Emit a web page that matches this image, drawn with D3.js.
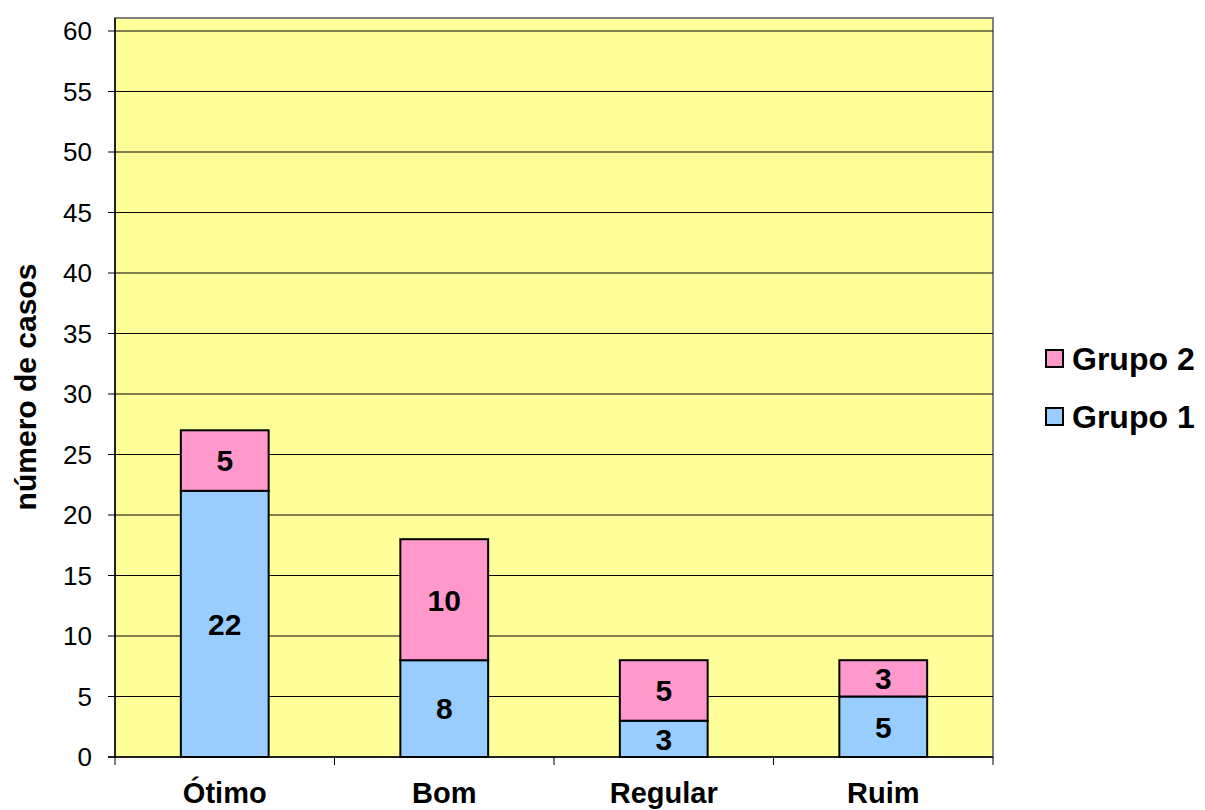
<!DOCTYPE html>
<html>
<head>
<meta charset="utf-8">
<script src="https://cdn.jsdelivr.net/npm/d3@7"></script>
<style>
body { margin: 0; background: #fff; }
text { font-family: "Liberation Sans", Arial, sans-serif; }
</style>
</head>
<body>
<svg id="chart" width="1205" height="810"></svg>
<script>
var categories = ["Ótimo", "Bom", "Regular", "Ruim"];
var grupo1 = [22, 8, 3, 5];
var grupo2 = [5, 10, 5, 3];
var seriesNames = ["Grupo 1", "Grupo 2"];
var seriesColors = ["#99ccff", "#ff99cc"];
var yTicks = d3.range(0, 61, 5);

var svg = d3.select("#chart");
var margin = { left: 115, top: 18, right: 993, bottom: 757 };

var x = d3.scaleBand().domain(categories)
	.range([margin.left, margin.right]).paddingInner(0).paddingOuter(0);
var y = d3.scaleLinear().domain([0, 60]).range([margin.bottom, 31]);

// plot background
svg.append("rect")
	.attr("x", margin.left).attr("y", margin.top)
	.attr("width", margin.right - margin.left)
	.attr("height", margin.bottom - margin.top)
	.attr("fill", "#ffff99")
	.attr("stroke", "#808080").attr("stroke-width", 2);

// gridlines
svg.append("g").selectAll("line").data(yTicks.filter(function(d){ return d > 0; }))
	.enter().append("line")
		.attr("x1", margin.left).attr("x2", margin.right)
		.attr("y1", function(d){ return y(d); })
		.attr("y2", function(d){ return y(d); })
		.attr("stroke", "#000").attr("stroke-width", 1);

// stacked data
var table = categories.map(function(c, i){
	return { cat: c, g1: grupo1[i], g2: grupo2[i] };
});
var stack = d3.stack().keys(["g1", "g2"])(table);

var bw = x.bandwidth() * 0.4;
var layers = svg.append("g").selectAll("g").data(stack)
	.enter().append("g")
		.attr("fill", function(d, i){ return seriesColors[i]; });

layers.selectAll("rect").data(function(d){ return d; })
	.enter().append("rect")
		.attr("x", function(d){ return x(d.data.cat) + (x.bandwidth() - bw) / 2; })
		.attr("y", function(d){ return y(d[1]); })
		.attr("width", bw)
		.attr("height", function(d){ return y(d[0]) - y(d[1]); })
		.attr("stroke", "#000").attr("stroke-width", 2);

layers.selectAll("text").data(function(d){ return d; })
	.enter().append("text")
		.attr("x", function(d){ return x(d.data.cat) + x.bandwidth() / 2; })
		.attr("y", function(d){ return (y(d[0]) + y(d[1])) / 2; })
		.attr("dy", "0.36em")
		.attr("text-anchor", "middle")
		.attr("fill", "#000")
		.style("font-size", "30px").style("font-weight", "bold")
		.text(function(d){ return d[1] - d[0]; });

// y axis
var yAxis = svg.append("g");
yAxis.append("line")
	.attr("x1", margin.left).attr("x2", margin.left)
	.attr("y1", margin.top).attr("y2", margin.bottom)
	.attr("stroke", "#000").attr("stroke-width", 1.5);
yAxis.selectAll(".tick").data(yTicks).enter().append("line")
	.attr("x1", margin.left - 7).attr("x2", margin.left)
	.attr("y1", function(d){ return y(d); }).attr("y2", function(d){ return y(d); })
	.attr("stroke", "#000");
yAxis.selectAll("text").data(yTicks).enter().append("text")
	.attr("x", margin.left - 23)
	.attr("y", function(d){ return y(d); })
	.attr("dy", "0.36em")
	.attr("text-anchor", "end")
	.style("font-size", "26px")
	.text(function(d){ return d; });

// x axis
var xAxis = svg.append("g");
xAxis.append("line")
	.attr("x1", margin.left - 7).attr("x2", margin.right)
	.attr("y1", margin.bottom).attr("y2", margin.bottom)
	.attr("stroke", "#000").attr("stroke-width", 1.5);
var bounds = categories.map(function(c){ return x(c); }).concat([margin.right]);
xAxis.selectAll(".tick").data(bounds).enter().append("line")
	.attr("x1", function(d){ return d; }).attr("x2", function(d){ return d; })
	.attr("y1", margin.bottom).attr("y2", margin.bottom + 8)
	.attr("stroke", "#000");
xAxis.selectAll("text").data(categories).enter().append("text")
	.attr("x", function(d){ return x(d) + x.bandwidth() / 2; })
	.attr("y", 803)
	.attr("text-anchor", "middle")
	.style("font-size", "29px").style("font-weight", "bold")
	.text(function(d){ return d; });

// y label
svg.append("text")
	.attr("transform", "translate(36,387) rotate(-90)")
	.attr("text-anchor", "middle")
	.style("font-size", "30px").style("font-weight", "bold")
	.text("número de casos");

// legend (Grupo 2 on top)
var legendItems = [1, 0];
var lg = svg.append("g").selectAll("g").data(legendItems).enter().append("g")
	.attr("transform", function(d, i){ return "translate(1046," + (358 + i * 58) + ")"; });
lg.append("rect")
	.attr("x", 0).attr("y", -8).attr("width", 17).attr("height", 17)
	.attr("fill", function(d){ return seriesColors[d]; })
	.attr("stroke", "#000").attr("stroke-width", 2);
lg.append("text")
	.attr("x", 26).attr("dy", "0.36em")
	.style("font-size", "32px").style("font-weight", "bold")
	.text(function(d){ return seriesNames[d]; });
</script>
</body>
</html>
